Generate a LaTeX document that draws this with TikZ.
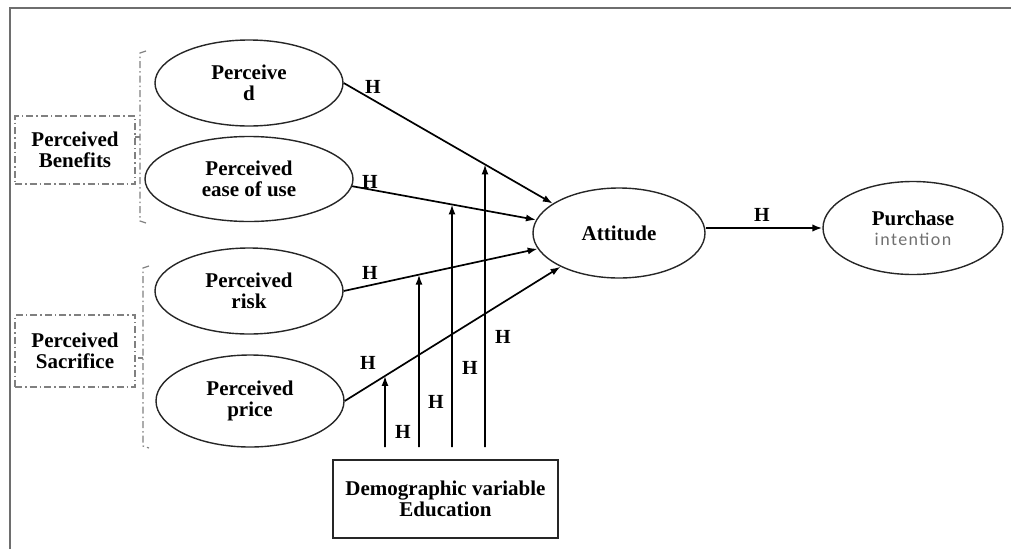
\documentclass[tikz,border=0pt]{standalone}
\usepackage{fontspec}
\setmainfont{Liberation Serif}
\newfontfamily\carl{Carlito}[LetterSpace=8]
\usetikzlibrary{shapes.geometric,arrows.meta,intersections}
\definecolor{framegray}{HTML}{6E6E6E}
\definecolor{dashgray}{HTML}{808080}
\definecolor{inkgray}{HTML}{707070}
\begin{document}
\begin{tikzpicture}[x=1pt,y=-1pt,
  ell/.style={draw=black!85, line width=1.4pt, ellipse, inner sep=0pt, align=center,
              font=\fontsize{21}{21}\selectfont\bfseries},
  grp/.style={draw=dashgray, line width=1.2pt, dash pattern=on 7pt off 3pt on 1.5pt off 3pt,
              minimum width=120pt, align=center, inner sep=0pt,
              font=\fontsize{21}{21}\selectfont\bfseries},
  brk/.style={draw=dashgray, line width=1.2pt, dash pattern=on 7pt off 3pt on 1.5pt off 3pt},
  arr/.style={line width=1.7pt, -{Latex[length=10pt,width=7pt]}},
  hl/.style={font=\fontsize{20}{20}\selectfont\bfseries, inner sep=0pt},
  box/.style={draw=black!85, line width=1.4pt, inner sep=0pt, align=center,
              font=\fontsize{21}{21}\selectfont\bfseries}
]
\useasboundingbox (0,0) rectangle (1011,549);
% frame
\draw[framegray, line width=2pt] (10,549) -- (10,8) -- (1011,8);

% ellipses
\node[ell, minimum width=188pt, minimum height=86pt] (pu) at (249,83) {Perceive\\d};
\node[ell, minimum width=208pt, minimum height=85pt] (pe) at (249,179) {Perceived\\ease of use};
\node[ell, minimum width=188pt, minimum height=86pt] (pr) at (249,291) {Perceived\\risk};
\node[ell, minimum width=188pt, minimum height=92pt] (pp) at (250,401) {Perceived\\price};
\node[ell, minimum width=172pt, minimum height=90pt] (att) at (619,233) {Attitude};
\node[ell, minimum width=180pt, minimum height=93pt] (pi) at (913,228)
  {Purchase\\[-1pt]{\carl\mdseries\fontsize{18}{20}\selectfont\color{inkgray}intention}};

% group boxes
\node[grp, minimum height=68pt] (ben) at (75,150) {Perceived\\Benefits};
\node[grp, minimum height=72pt] (sac) at (75,351) {Perceived\\Sacrifice};

% brackets
\draw[brk] (146,51) -- (140,53) -- (140,221) -- (146,223);
\draw[brk] (140,137) -- (135,137);
\draw[brk] (149,266) -- (143,268) -- (143,446) -- (149,448);
\draw[brk] (143,358) -- (138,358);

% demographic box
\node[box, minimum width=225pt, minimum height=78pt] (demo) at (445.5,499)
  {Demographic variable\\Education};

% main arrows
\draw[arr, name path=l1] (pu.east) -- (att.156);
\draw[arr, name path=l2] (pe.-4) -- (att.171);
\draw[arr, name path=l3] (pr.east) -- (att.191);
\draw[arr, name path=l4] (pp.east) -- (att.210);
\draw[line width=2.4pt, -{Latex[length=10pt,width=7.5pt]}] (att.east |- pi.west) -- (pi.west);

% moderation arrows
\coordinate (s1) at (385,447);
\coordinate (s2) at (419,447);
\coordinate (s3) at (452,447);
\coordinate (s4) at (485,447);
\path[name path=v1] (s1) -- ++(0,-400);
\path[name path=v2] (s2) -- ++(0,-400);
\path[name path=v3] (s3) -- ++(0,-400);
\path[name path=v4] (s4) -- ++(0,-400);
\path[name intersections={of=l4 and v1, by=m1}];
\path[name intersections={of=l3 and v2, by=m2}];
\path[name intersections={of=l2 and v3, by=m3}];
\path[name intersections={of=l1 and v4, by=m4}];
\draw[arr] (s1) -- (m1);
\draw[arr] (s2) -- (m2);
\draw[arr] (s3) -- (m3);
\draw[arr] (s4) -- (m4);

% labels
\node[hl] (h1) at (373,87) {H};
\node[hl] (h2) at (370,182) {H};
\node[hl] (h3) at (370,273) {H};
\node[hl] (h4) at (368,363) {H};
\node[hl] (h5) at (762,215) {H};
\node[hl] (h6) at (403,432) {H};
\node[hl] (h7) at (436,402) {H};
\node[hl] (h8) at (470,368) {H};
\node[hl] (h9) at (503,337) {H};
\end{tikzpicture}
\end{document}
